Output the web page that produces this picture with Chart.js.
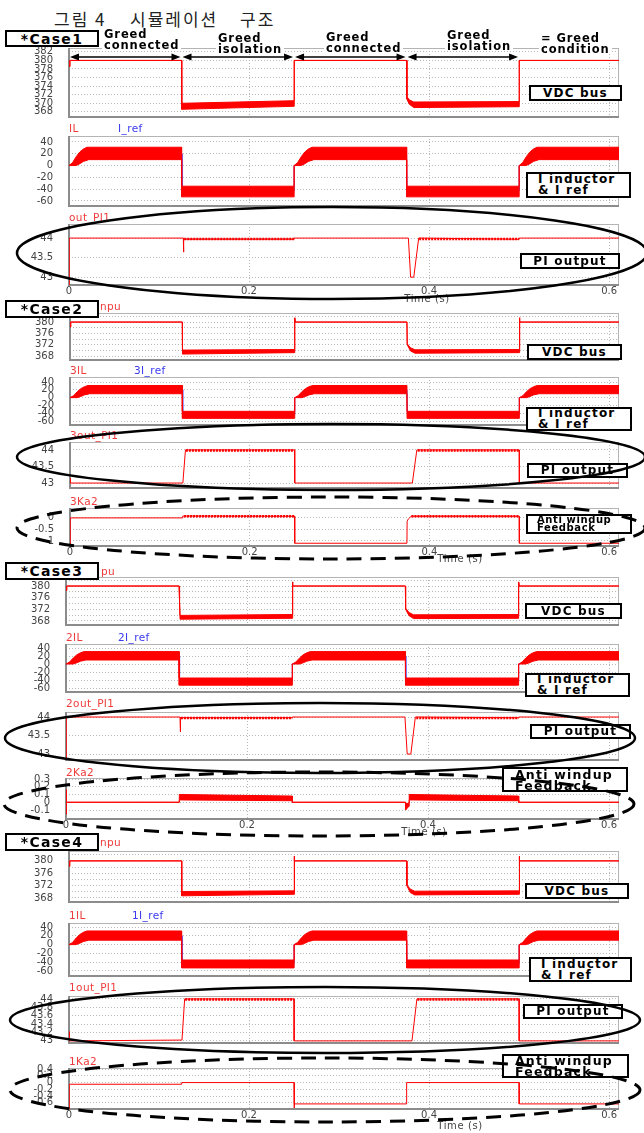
<!DOCTYPE html>
<html>
<head>
<meta charset="utf-8">
<script src="https://cdn.jsdelivr.net/npm/chart.js@4.4.1/dist/chart.umd.min.js"></script>
<style>
  body { margin: 0; background: #fff; width: 644px; height: 1133px; position: relative; overflow: hidden; font-family: "DejaVu Sans", sans-serif; }
  .pnl { position: absolute; left: 0; width: 644px; z-index: 1; }
  .lbl { position: absolute; font-size: 10.5px; line-height: 12px; letter-spacing: 0.4px; transform: translateY(-50%); white-space: nowrap; z-index: 2; }
  .tm { position: absolute; font-size: 10px; color: #444; transform: translate(-50%, -50%); letter-spacing: 0.6px; white-space: nowrap; z-index: 2; }
  .box { position: absolute; box-sizing: border-box; border: 2.5px solid #000; background: #fff; display: flex; flex-direction: column;
         justify-content: center; font-weight: bold; color: #000; white-space: nowrap; overflow: hidden; z-index: 3;
         font-size: 12px; line-height: 11px; letter-spacing: 1.2px; }
  .box.c { align-items: center; }
  .box.l { align-items: flex-start; padding-left: 10px; }
  .note { position: absolute; background: #fff; font-weight: bold; font-size: 11.5px; line-height: 10.5px; letter-spacing: 0.9px; padding: 0 2px; white-space: nowrap; z-index: 3; }
  .title { position: absolute; font-family: "Noto Sans CJK KR", sans-serif; font-size: 17px; color: #222; letter-spacing: 2px; white-space: nowrap; transform: translateY(-50%); }
  svg { position: absolute; left: 0; top: 0; z-index: 4; pointer-events: none; }
</style>
</head>
<body>
<div class="title" style="left:54px;top:18px">그림 4</div>
<div class="title" style="left:130px;top:18px">시뮬레이션</div>
<div class="title" style="left:240px;top:18px">구조</div>

<script>
// time axis (s)
const timeTicks = [0, 0.2, 0.4, 0.6];
const phaseEdges = [0, 0.125, 0.25, 0.375, 0.5];
const T_MAX = 0.611;

// tick labels
const vdcTicks1 = [368, 370, 372, 374, 376, 378, 380, 382];
const vdcTicks = [368, 372, 376, 380];
const vdcGrid = [368, 370, 372, 374, 376, 378, 380, 382];
const ilTicks = [-60, -40, -20, 0, 20, 40];
const piTicks = [43, 43.5, 44];
const piTicks4 = [43, 43.2, 43.4, 43.6, 43.8, 44];
const kaTicks2 = [-1, -0.5, 0];
const kaTicks3 = [-0.1, 0, 0.1, 0.2, 0.3];
const kaTicks4 = [-0.6, -0.4, -0.2, 0, 0.2, 0.4];

// DC bus voltage, ripple band upper / lower edge [t, V]
const vdc1Hi = [[0, 378.6], [0.001, 380], [0.125, 380], [0.1252, 370.0], [0.25, 370.6], [0.2502, 380], [0.375, 380], [0.3753, 371.6], [0.378, 370.8], [0.383, 370.3], [0.5, 370.4], [0.5002, 380], [0.611, 380]];
const vdc1Lo = [[0, 378.6], [0.001, 380], [0.125, 380], [0.1252, 368.6], [0.25, 369.3], [0.2502, 380], [0.375, 380], [0.3753, 371.0], [0.378, 369.8], [0.383, 369.0], [0.5, 369.2], [0.5002, 380], [0.611, 380]];
const vdc2Hi = [[0, 378.3], [0.0008, 380], [0.125, 380], [0.1252, 370.1], [0.25, 370.3], [0.2501, 381.5], [0.2507, 380], [0.375, 380], [0.3753, 372.3], [0.379, 370.9], [0.384, 370.2], [0.5, 370.3], [0.5001, 381.5], [0.5007, 380], [0.611, 380]];
const vdc2Lo = [[0, 378.3], [0.0008, 380], [0.125, 380], [0.1252, 368.7], [0.25, 369.2], [0.2501, 381.5], [0.2507, 380], [0.375, 380], [0.3753, 372.0], [0.379, 369.8], [0.384, 369.0], [0.5, 369.2], [0.5001, 381.5], [0.5007, 380], [0.611, 380]];
const vdc3Hi = [[0, 378.5], [0.0008, 380], [0.125, 380], [0.1251, 375], [0.1258, 374.6], [0.126, 369.9], [0.25, 370.2], [0.2501, 381.4], [0.2507, 380], [0.375, 380], [0.3752, 372.4], [0.379, 370.9], [0.384, 370.1], [0.5, 370.2], [0.5001, 381.4], [0.5007, 380], [0.611, 380]];
const vdc3Lo = [[0, 378.5], [0.0008, 380], [0.125, 380], [0.1251, 375], [0.1258, 374.6], [0.126, 368.6], [0.25, 368.9], [0.2501, 381.4], [0.2507, 380], [0.375, 380], [0.3752, 372.0], [0.379, 369.8], [0.384, 368.8], [0.5, 368.9], [0.5001, 381.4], [0.5007, 380], [0.611, 380]];

// inductor current band and reference [t, A]
const ilHi = [[0, 0], [0.004, 5], [0.008, 15], [0.012, 23], [0.016, 28], [0.02, 31], [0.125, 31], [0.1251, -35], [0.25, -35], [0.2501, 0], [0.254, 5], [0.258, 15], [0.262, 23], [0.266, 28], [0.27, 31], [0.375, 31], [0.3751, -35], [0.5, -35], [0.5001, 0], [0.504, 5], [0.508, 15], [0.512, 23], [0.516, 28], [0.52, 31], [0.611, 31]];
const ilLo = [[0, 0], [0.008, 0], [0.012, 3], [0.016, 7], [0.022, 10], [0.125, 10], [0.1251, -53], [0.25, -53], [0.2501, 0], [0.258, 0], [0.262, 3], [0.266, 7], [0.272, 10], [0.375, 10], [0.3751, -53], [0.5, -53], [0.5001, 0], [0.508, 0], [0.512, 3], [0.516, 7], [0.522, 10], [0.611, 10]];
const iRef = [[0, 0], [0.004, 2], [0.01, 10], [0.016, 17], [0.021, 20], [0.125, 20], [0.1255, -43], [0.25, -43], [0.2501, 0], [0.254, 2], [0.26, 10], [0.266, 17], [0.271, 20], [0.375, 20], [0.3755, -43], [0.5, -43], [0.5001, 0], [0.504, 2], [0.51, 10], [0.516, 17], [0.521, 20], [0.611, 20]];

// PI output [t, value] and its ripple stretches
const pi1 = [[0, 42.8], [0.0003, 44], [0.127, 44], [0.1272, 43.64], [0.1276, 43.97], [0.25, 43.97], [0.2502, 44], [0.377, 44], [0.3795, 43.0], [0.383, 43.0], [0.3885, 44], [0.5, 43.97], [0.5002, 44], [0.611, 44]];
const pi1Rip = [[0.128, 43.975], [0.25, 43.975], [0.3, null], [0.389, 43.975], [0.5, 43.975]];
const pi2 = [[0, 43.15], [0.0003, 43], [0.1256, 43], [0.1285, 44], [0.25, 44], [0.2501, 43], [0.381, 43], [0.386, 44], [0.5, 44], [0.5001, 43], [0.611, 43]];
const pi2Rip = [[0.129, 43.98], [0.25, 43.98], [0.3, null], [0.387, 43.98], [0.5, 43.98]];
const pi3 = [[0, 42.84], [0.0003, 44], [0.126, 44], [0.1262, 43.6], [0.1267, 43.98], [0.25, 43.98], [0.2502, 44], [0.3745, 44], [0.377, 43.0], [0.381, 43.0], [0.386, 44], [0.5, 43.98], [0.5002, 44], [0.611, 44]];
const pi3Rip = [[0.127, 43.975], [0.25, 43.975], [0.3, null], [0.387, 43.975], [0.5, 43.975]];
const pi4 = [[0, 43.22], [0.0005, 43], [0.1255, 43.02], [0.1285, 44], [0.25, 44], [0.2501, 43], [0.381, 43], [0.3865, 44], [0.5, 44], [0.5001, 43], [0.611, 43]];
const pi4Rip = [[0.129, 43.985], [0.25, 43.985], [0.3, null], [0.387, 43.985], [0.5, 43.985]];

// anti windup feedback [t, value]
const ka2 = [[0, -1.22], [0.0003, 0], [0.125, 0], [0.1255, 0.08], [0.25, 0.07], [0.2501, -1.1], [0.375, -1.1], [0.3752, -0.15], [0.3765, -0.05], [0.378, 0], [0.3795, 0.07], [0.5, 0.07], [0.5001, -1.1], [0.611, -1.1]];
const ka2Rip = [[0.127, 0.075], [0.25, 0.075], [0.3, null], [0.38, 0.075], [0.5, 0.075]];
const ka3Hi = [[0, -0.15], [0.0003, 0.16], [0.0008, 0], [0.125, 0], [0.1252, 0.1], [0.25, 0.08], [0.2502, 0], [0.375, 0], [0.3752, -0.02], [0.379, -0.01], [0.3792, 0.1], [0.5, 0.08], [0.5002, 0], [0.611, 0]];
const ka3Lo = [[0, -0.15], [0.0003, 0.16], [0.0008, 0], [0.125, 0], [0.1252, 0.03], [0.25, 0.02], [0.2502, 0], [0.375, 0], [0.3752, -0.1], [0.379, -0.05], [0.3792, 0.03], [0.5, 0.02], [0.5002, 0], [0.611, 0]];
const ka4 = [[0, -0.78], [0.0003, -0.05], [0.125, -0.05], [0.1252, 0], [0.25, 0], [0.2501, -0.75], [0.2504, -0.63], [0.375, -0.63], [0.3751, 0], [0.5, 0], [0.5001, -0.63], [0.611, -0.63]];

const RED = 'rgb(255,0,0)';
const BLUE = 'rgb(50,50,255)';
const GRID = '#b8b8b8';
const TICK = '#444';
const FONT = '"DejaVu Sans", sans-serif';
const RIGHT = 619;
const PAD = 24; // room for the y tick padding Chart.js reserves above / below

const pts = a => a.map(p => ({x: p[0], y: p[1]}));
function band(hi, lo) {
  return [
    {data: pts(hi), borderColor: RED, borderWidth: 1, fill: false},
    {data: pts(lo), borderColor: RED, borderWidth: 1, backgroundColor: RED, fill: '-1'}
  ];
}
function line(d, color, w, dash) {
  return {data: pts(d), borderColor: color, borderWidth: w || 1, borderDash: dash || [], fill: false};
}

const framePlugin = {
  id: 'frame',
  beforeDatasetsDraw(c) {
    const a = c.chartArea, ctx = c.ctx;
    ctx.save();
    ctx.strokeStyle = '#b4b4b4';
    ctx.lineWidth = 1;
    ctx.strokeRect(a.left + 0.5, a.top + 0.5, a.width - 1, a.height - 1);
    ctx.strokeStyle = '#8c8c8c';
    ctx.lineWidth = 2;
    ctx.beginPath();
    ctx.moveTo(a.left, a.top);
    ctx.lineTo(a.left, a.bottom);
    ctx.lineTo(a.right, a.bottom);
    ctx.stroke();
    ctx.restore();
  }
};

// double arrows over the grid phases (case 1 only)
const arrowPlugin = {
  id: 'arrows',
  afterDraw(c) {
    const ctx = c.ctx, sx = c.scales.x, y = c.chartArea.top + 9;
    ctx.save();
    ctx.strokeStyle = '#000';
    ctx.fillStyle = '#000';
    ctx.lineWidth = 1.6;
    const head = (x, dir) => {
      ctx.beginPath();
      ctx.moveTo(x, y);
      ctx.lineTo(x + dir * 9, y - 3.5);
      ctx.lineTo(x + dir * 9, y + 3.5);
      ctx.closePath();
      ctx.fill();
    };
    for (let i = 0; i < phaseEdges.length - 1; i++) {
      const a = sx.getPixelForValue(phaseEdges[i]) + 1;
      const b = sx.getPixelForValue(phaseEdges[i + 1]) - 1;
      ctx.beginPath();
      ctx.moveTo(a + 5, y);
      ctx.lineTo(b - 5, y);
      ctx.stroke();
      head(a, 1);
      head(b, -1);
    }
    ctx.restore();
  }
};

function panel(o) {
  const xH = o.xLabels ? 14 : 0;
  const wrap = document.createElement('div');
  wrap.className = 'pnl';
  wrap.style.top = (o.top - PAD) + 'px';
  wrap.style.height = (o.bottom - o.top + 2 * PAD) + 'px';
  const cv = document.createElement('canvas');
  wrap.appendChild(cv);
  document.body.appendChild(wrap);
  const grid = o.grid || o.ticks;
  return new Chart(cv, {
    type: 'line',
    data: {datasets: o.sets},
    options: {
      responsive: true,
      maintainAspectRatio: false,
      animation: false,
      layout: {padding: {top: PAD, right: 644 - RIGHT, bottom: PAD - xH, left: 0}},
      elements: {point: {radius: 0}, line: {tension: 0}},
      plugins: {legend: {display: false}, tooltip: {enabled: false}},
      scales: {
        x: {
          type: 'linear', min: 0, max: T_MAX,
          afterBuildTicks: ax => { ax.ticks = timeTicks.map(v => ({value: v})); },
          afterFit: ax => { ax.height = xH; },
          grid: {color: GRID, drawTicks: false},
          border: {display: false, dash: [1, 2]},
          ticks: {display: !!o.xLabels, padding: 0, color: TICK, font: {family: FONT, size: 10}, callback: v => String(v)}
        },
        y: {
          min: o.min, max: o.max,
          afterBuildTicks: ax => { ax.ticks = grid.map(v => ({value: v})); },
          afterFit: ax => { ax.width = o.left; },
          grid: {color: GRID, drawTicks: false},
          border: {display: false, dash: [1, 2]},
          ticks: {autoSkip: false, padding: 16, color: TICK, font: {family: FONT, size: 10},
                  callback: v => o.ticks.includes(v) ? String(v) : ''}
        }
      }
    },
    plugins: [framePlugin].concat(o.extra || [])
  });
}

// Case 1
panel({left: 69, top: 48, bottom: 117, min: 366.8, max: 382.9, ticks: vdcTicks1, sets: band(vdc1Hi, vdc1Lo), extra: [arrowPlugin]});
panel({left: 69, top: 136, bottom: 206, min: -68.5, max: 50, ticks: ilTicks, sets: band(ilHi, ilLo).concat([line(iRef, BLUE)])});
panel({left: 69, top: 224, bottom: 285, min: 42.8, max: 44.36, ticks: piTicks, sets: [line(pi1, RED), line(pi1Rip, RED, 2.5, [2, 1])], xLabels: true});
// Case 2
panel({left: 70, top: 313, bottom: 360, min: 366.6, max: 383.2, ticks: vdcTicks, grid: vdcGrid, sets: band(vdc2Hi, vdc2Lo)});
panel({left: 70, top: 377, bottom: 425, min: -70, max: 52.8, ticks: ilTicks, sets: band(ilHi, ilLo).concat([line(iRef, BLUE)])});
panel({left: 70, top: 442, bottom: 488, min: 42.85, max: 44.24, ticks: piTicks, sets: [line(pi2, RED), line(pi2Rip, RED, 2.5, [2, 1])]});
panel({left: 70, top: 508, bottom: 546, min: -1.22, max: 0.43, ticks: kaTicks2, sets: [line(ka2, RED), line(ka2Rip, RED, 2.5, [2, 1])], xLabels: true});
// Case 3
panel({left: 66, top: 577, bottom: 625, min: 366.6, max: 383.1, ticks: vdcTicks, grid: vdcGrid, sets: band(vdc3Hi, vdc3Lo)});
panel({left: 66, top: 644, bottom: 692, min: -70, max: 50, ticks: ilTicks, sets: band(ilHi, ilLo).concat([line(iRef, BLUE)])});
panel({left: 66, top: 712, bottom: 760, min: 42.84, max: 44.135, ticks: piTicks, sets: [line(pi3, RED), line(pi3Rip, RED, 2.5, [2, 1])]});
panel({left: 66, top: 778, bottom: 819, min: -0.216, max: 0.313, ticks: kaTicks3, sets: band(ka3Hi, ka3Lo), xLabels: true});
// Case 4
panel({left: 69, top: 851, bottom: 902, min: 366.7, max: 383.2, ticks: vdcTicks, grid: vdcGrid, sets: band(vdc2Hi, vdc2Lo)});
panel({left: 69, top: 923, bottom: 976, min: -71.4, max: 49.1, ticks: ilTicks, sets: band(ilHi, ilLo).concat([line(iRef, BLUE)])});
panel({left: 69, top: 996, bottom: 1043, min: 42.95, max: 44.07, ticks: piTicks4, sets: [line(pi4, RED), line(pi4Rip, RED, 2.5, [2, 1])]});
panel({left: 69, top: 1068, bottom: 1109, min: -0.78, max: 0.43, ticks: kaTicks4, sets: [line(ka4, RED)], xLabels: true});

// signal names above the panels
const sigLabels = [
  ['IL', 69, 128, RED], ['I_ref', 118, 128, BLUE], ['out_PI1', 69, 217, RED],
  ['npu', 100, 306, RED], ['3IL', 70, 370, RED], ['3I_ref', 134, 370, BLUE], ['3out_PI1', 70, 435, RED], ['3Ka2', 70, 501, RED],
  ['pu', 101, 571, RED], ['2IL', 66, 637, RED], ['2I_ref', 118, 637, BLUE], ['2out_PI1', 66, 703, RED], ['2Ka2', 66, 772, RED],
  ['npu', 100, 842, RED], ['1IL', 69, 915, RED], ['1I_ref', 132, 915, BLUE], ['1out_PI1', 69, 987, RED], ['1Ka2', 69, 1061, RED]
];
sigLabels.forEach(([t, x, y, c]) => {
  const d = document.createElement('div');
  d.className = 'lbl';
  d.textContent = t;
  d.style.left = x + 'px';
  d.style.top = y + 'px';
  d.style.color = c === RED ? '#f03a3a' : '#3a3af0';
  document.body.appendChild(d);
});

[[427, 298], [460, 558], [424, 831], [460, 1125]].forEach(([x, y]) => {
  const d = document.createElement('div');
  d.className = 'tm';
  d.textContent = 'Time (s)';
  d.style.left = x + 'px';
  d.style.top = y + 'px';
  document.body.appendChild(d);
});

function box(x, y, w, h, lines, cls, style) {
  const d = document.createElement('div');
  d.className = 'box ' + cls;
  d.style.cssText = `left:${x}px;top:${y}px;width:${w}px;height:${h}px;` + (style || '');
  d.innerHTML = lines.map(s => `<span>${s}</span>`).join('');
  document.body.appendChild(d);
}
const caseStyle = 'font-size:14px;line-height:14px;letter-spacing:1.3px;';
box(5, 30, 94, 17, ['*Case1'], 'c', caseStyle);
box(5, 300, 94, 18, ['*Case2'], 'c', caseStyle);
box(5, 562, 94, 18, ['*Case3'], 'c', caseStyle);
box(5, 833, 94, 18, ['*Case4'], 'c', caseStyle);

box(529, 85, 93, 16, ['VDC bus'], 'c');
box(527, 344, 95, 16, ['VDC bus'], 'c');
box(525, 603, 97, 16, ['VDC bus'], 'c');
box(525, 883, 104, 16, ['VDC bus'], 'c');

box(526, 172, 105, 26, ['I inductor', '&amp; I ref'], 'l');
box(526, 407, 106, 24, ['I inductor', '&amp; I ref'], 'l');
box(525, 673, 105, 24, ['I inductor', '&amp; I ref'], 'l');
box(529, 957, 103, 25, ['I inductor', '&amp; I ref'], 'l');

box(520, 253, 100, 16, ['PI output'], 'c');
box(527, 463, 101, 15, ['PI output'], 'c');
box(530, 724, 101, 15, ['PI output'], 'c');
box(523, 1004, 100, 15, ['PI output'], 'c');

box(526, 514, 106, 20, ['Anti windup', 'Feedback'], 'l', 'font-size:10px;line-height:8.5px;letter-spacing:0.6px;padding-left:9px;');
box(502, 767, 126, 25, ['Anti windup', 'Feedback'], 'l', 'font-size:12.5px;line-height:11px;padding-left:11px;');
box(502, 1054, 127, 24, ['Anti windup', 'Feedback'], 'l', 'font-size:12.5px;line-height:11px;padding-left:11px;');

// grid condition notes above case 1
[[102, 29, 'Greed', 'connected'], [216, 33, 'Greed', 'isolation'], [324, 32, 'Greed', 'connected'],
 [445, 30, 'Greed', 'isolation'], [539, 33, '= Greed', 'condition']].forEach(([x, y, a, b]) => {
  const d = document.createElement('div');
  d.className = 'note';
  d.style.left = x + 'px';
  d.style.top = y + 'px';
  d.innerHTML = a + '<br>' + b;
  document.body.appendChild(d);
});

// highlight ellipses
const NS = 'http://www.w3.org/2000/svg';
const svg = document.createElementNS(NS, 'svg');
svg.setAttribute('width', 644);
svg.setAttribute('height', 1133);
[[332, 253, 315, 46, false], [331, 457, 314, 33, false], [331, 528, 314, 31, true],
 [320, 738, 315, 35, false], [319, 804, 315, 32, true],
 [325, 1020, 315, 33, false], [325, 1090, 315, 32, true]].forEach(([cx, cy, rx, ry, dashed]) => {
  const e = document.createElementNS(NS, 'ellipse');
  e.setAttribute('cx', cx);
  e.setAttribute('cy', cy);
  e.setAttribute('rx', rx);
  e.setAttribute('ry', ry);
  e.setAttribute('fill', 'none');
  e.setAttribute('stroke', '#000');
  e.setAttribute('stroke-width', dashed ? 3 : 2.5);
  if (dashed) e.setAttribute('stroke-dasharray', '15 9');
  svg.appendChild(e);
});
document.body.appendChild(svg);
</script>
</body>
</html>
